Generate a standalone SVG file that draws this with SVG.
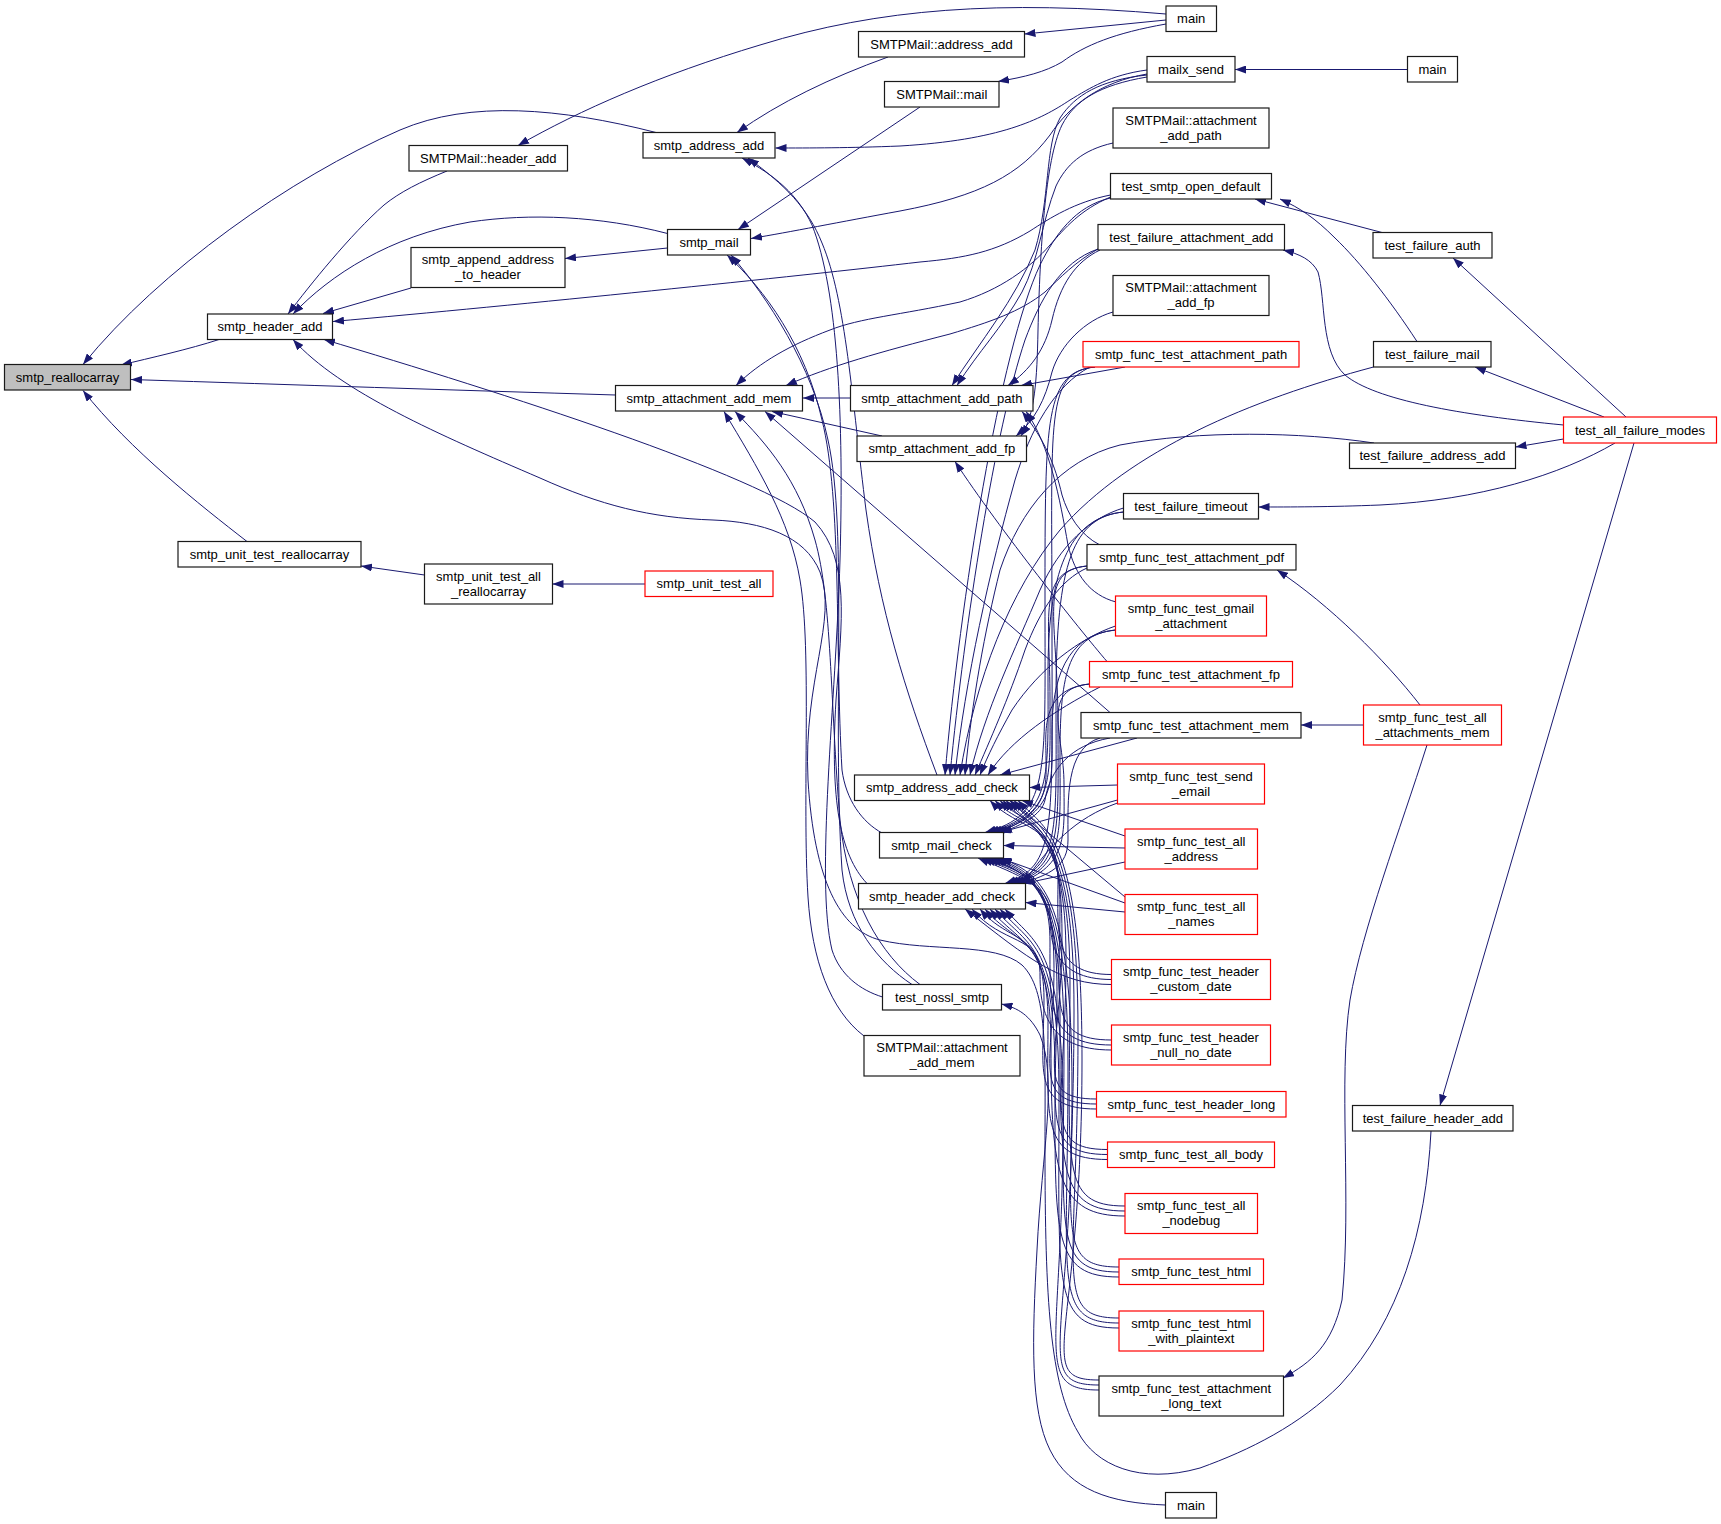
<svg xmlns="http://www.w3.org/2000/svg" width="1721" height="1524" viewBox="0 0 1721 1524">
<defs>
<marker id="ah" viewBox="0 0 11 8" refX="11" refY="4" markerWidth="11" markerHeight="8" orient="auto" markerUnits="userSpaceOnUse"><path d="M0,0 L11,4 L0,8 z" fill="#191970"/></marker>
<style>
.e{fill:none;stroke:#191970;stroke-width:1;marker-end:url(#ah)}
.n rect{fill:#fff;stroke:#1a1a1a;stroke-width:1.2}
.n.r rect{stroke:#ff0000}
.n.root rect{fill:#bfbfbf}
text{font-family:"Liberation Sans",Arial,Helvetica,sans-serif;font-size:13px;text-anchor:middle;fill:#000}
</style>
</defs>
<rect width="1721" height="1524" fill="#fff"/>
<g id="edges">
<path class="e" d="M219,339.5 C190,349 150,358 121,365"/>
<path class="e" d="M656,132.5 C560,108 470,100 400,130 C290,178 160,270 83,364.5"/>
<path class="e" d="M615.5,395 C450,390 300,385 131,379.5"/>
<path class="e" d="M247,541.5 C200,505 130,450 83,390.5"/>
<path class="e" d="M447,171 C420,182 400,192 384,205 C350,235 310,285 288,314"/>
<path class="e" d="M667.5,233.5 C600,216 530,213 470,222 C390,236 330,275 293,314"/>
<path class="e" d="M411,288 L323,313.5"/>
<path class="e" d="M1110.5,195 C1075,202 1050,218 1030,231 C995,252 965,258 920,262 C800,276 520,305 333,321.5"/>
<path class="e" d="M867,883.5 C840,855 830,800 836,700 C842,620 850,560 815,522 C760,475 500,392 324,339.5"/>
<path class="e" d="M1431,1131 C1426,1230 1400,1320 1340,1385 C1300,1425 1250,1450 1200,1468 C1140,1485 1095,1465 1078,1432 C1050,1385 1045,1300 1045,1150 C1045,1050 1048,990 1022,965 C995,942 930,952 880,940 C840,930 814,880 808,780 C803,680 838,620 820,572 C805,535 762,522 713,520 C650,518 600,505 540,478 C440,435 340,392 293,339.5"/>
<path class="e" d="M888,57 C830,78 780,102 737,132.5"/>
<path class="e" d="M1147,70 C1110,75 1090,88 1070,100 C1040,120 1000,140 900,146 C850,148 810,148 775.5,148"/>
<path class="e" d="M937,775 C905,690 880,610 866,510 C852,400 846,300 822,243 C808,208 785,185 748,158"/>
<path class="e" d="M882.5,997 C860,990 840,975 832,950 C815,880 836,700 840,560 C844,420 838,290 812,225 C798,195 775,175 742,158"/>
<path class="e" d="M920,107 L738,229.5"/>
<path class="e" d="M1147,74 C1100,82 1070,105 1050,135 C1020,175 980,196 900,211 C840,222 790,232 751,238.5"/>
<path class="e" d="M882,833 C862,822 846,800 842,770 C835,650 842,500 822,420 C805,345 765,290 727,255"/>
<path class="e" d="M912,984.5 C878,962 848,925 842,870 C832,720 848,530 828,440 C812,365 768,298 731,255"/>
<path class="e" d="M667.5,248 L565,258.5"/>
<path class="e" d="M850.5,398 L803,398"/>
<path class="e" d="M882,436 L772,411.5"/>
<path class="e" d="M1110.5,197 C1080,210 1065,228 1050,245 C1030,268 1000,290 960,302 C900,315 860,318 830,330 C790,345 760,362 736,385.5"/>
<path class="e" d="M1098,249 C1075,262 1060,278 1045,292 C1020,312 990,322 950,334 C880,352 830,366 786,385.5"/>
<path class="e" d="M864,1036 C830,1010 812,960 808,897 C802,800 812,650 800,580 C790,520 758,468 724,411.5"/>
<path class="e" d="M920,984.5 C880,955 848,900 840,820 C830,700 832,600 815,540 C798,480 768,445 735,411.5"/>
<path class="e" d="M1110,712.5 L765,411.5"/>
<path class="e" d="M1147,75 C1100,80 1075,95 1060,118 C1045,145 1050,200 1035,250 C1015,300 980,342 952,385.5"/>
<path class="e" d="M1113,143 C1082,150 1066,165 1056,186 C1042,222 1038,262 1022,292 C1002,328 978,352 957,385.5"/>
<path class="e" d="M1125,367 L1021,385.5"/>
<path class="e" d="M1100,250 C1075,262 1060,285 1052,320 C1045,350 1030,370 1008,385.5"/>
<path class="e" d="M1100,545 C1080,535 1068,515 1062,495 C1055,465 1045,440 1022,411.5"/>
<path class="e" d="M1116,602 C1090,595 1075,575 1068,545 C1060,500 1050,445 1026,411.5"/>
<path class="e" d="M1113,312 C1085,320 1060,345 1052,372 C1045,400 1035,420 1016,436"/>
<path class="e" d="M1147,77 C1100,85 1075,100 1062,125 C1045,160 1040,250 1038,330 C1037,380 1035,415 1021,436"/>
<path class="e" d="M1107,661.5 C1080,630 1000,530 955,461.5"/>
<path class="e" d="M1166,14 C1000,0 880,8 760,45 C660,75 580,110 518,145.5"/>
<path class="e" d="M1166,20 L1024.5,34"/>
<path class="e" d="M1166,24 C1115,33 1085,45 1062,62 C1045,72 1025,77 998,81.5"/>
<path class="e" d="M1407.5,69.5 L1235,69.5"/>
<path class="e" d="M1382,232.5 L1255,199"/>
<path class="e" d="M1417,341.5 C1390,300 1360,262 1335,238 C1315,218 1300,208 1280,199"/>
<path class="e" d="M1626,417 L1453,258"/>
<path class="e" d="M1604,417 L1475,367"/>
<path class="e" d="M1563.5,425 C1460,415 1375,400 1345,375 C1320,352 1326,300 1318,272 C1312,260 1300,254 1283,250"/>
<path class="e" d="M1563.5,439 L1515.5,447"/>
<path class="e" d="M1615,443 C1560,475 1480,500 1380,505 C1330,507 1290,507 1258.5,507"/>
<path class="e" d="M1634,443 L1440,1105.5"/>
<path class="e" d="M1363.5,725 L1301,725"/>
<path class="e" d="M1420,705 C1385,660 1330,605 1277,570"/>
<path class="e" d="M1427,745 C1400,830 1362,930 1350,1000 C1338,1080 1352,1200 1342,1300 C1332,1345 1312,1362 1283,1378"/>
<path class="e" d="M1165.5,1505 C1110,1503 1070,1490 1050,1450 C1030,1410 1032,1340 1037,1250 C1042,1150 1058,1080 1040,1035 C1030,1015 1018,1008 1001.5,1004"/>
<path class="e" d="M424.5,575 L361,566"/>
<path class="e" d="M645,584 L552.5,584"/>
<path class="e" d="M1110.5,198 C1075,206 1055,235 1040,265 C1000,350 960,600 945,775"/>
<path class="e" d="M1098,249 C1060,262 1040,300 1025,340 C995,430 965,620 950,775"/>
<path class="e" d="M1090,367 C1055,385 1030,430 1015,480 C990,570 965,680 955,775"/>
<path class="e" d="M1373.5,367 C1250,400 1130,450 1060,530 C1010,590 975,680 960,775"/>
<path class="e" d="M1374,443 C1300,432 1200,430 1120,445 C1060,460 1020,510 1000,570 C985,630 972,700 965,775"/>
<path class="e" d="M1123.5,508 C1090,518 1060,545 1040,590 C1015,650 985,710 970,775"/>
<path class="e" d="M1087,568 C1060,580 1040,610 1025,650 C1008,700 990,740 975,775"/>
<path class="e" d="M1115.5,626 C1080,638 1040,668 1012,710 C998,735 988,755 980,775"/>
<path class="e" d="M1100,687 C1055,710 1010,740 988,775"/>
<path class="e" d="M1137,738 L1000,775"/>
<path class="e" d="M1117.5,785 L1029.5,787.5"/>
<path class="e" d="M1117.5,800 L1000,832.5"/>
<path class="e" d="M1117.5,803 C1075,818 1050,845 1023,883.5"/>
<path class="e" d="M1095,367 C1045,372 1045,417 1045,600 C1045,783 1050,814 985,832.5"/>
<path class="e" d="M1095,367 C1045,372 1052,417 1052,625 C1052,833 1057,866 1005,883.5"/>
<path class="e" d="M1123.5,512 C1073.5,517 1048,562 1048,672 C1048,782 1053,814 988,832.5"/>
<path class="e" d="M1123.5,512 C1073.5,517 1056,562 1056,698 C1056,834 1061,866 1008,883.5"/>
<path class="e" d="M1087,566 C1037,571 1050,616 1050,699 C1050,782 1055,814 991,832.5"/>
<path class="e" d="M1087,566 C1037,571 1058,616 1058,725 C1058,834 1063,866 1011,883.5"/>
<path class="e" d="M1115.5,630 C1065.5,635 1052,680 1052,731 C1052,782 1057,814 994,832.5"/>
<path class="e" d="M1115.5,630 C1065.5,635 1060,680 1060,757 C1060,834 1065,866 1014,883.5"/>
<path class="e" d="M1089.5,684 C1039.5,689 1046,734 1046,758 C1046,782 1051,814 997,832.5"/>
<path class="e" d="M1089.5,684 C1039.5,689 1064,734 1064,784 C1064,834 1069,866 1017,883.5"/>
<path class="e" d="M1110,738 C1070,745 1050,770 1045,800 C1042,815 1020,826 1001,832.5"/>
<path class="e" d="M1100,738 C1065,748 1068,800 1068,840 C1068,866 1050,875 1020,883.5"/>
<path class="e" d="M1125,836 L1022,800.5"/>
<path class="e" d="M1125,848 L1003.5,845.5"/>
<path class="e" d="M1125,862 L1024,883.5"/>
<path class="e" d="M1125,897 L1010,800.5"/>
<path class="e" d="M1125,903 L1000,858"/>
<path class="e" d="M1125,912 L1025.5,902.5"/>
<path class="e" d="M1111.5,974.5 C1051.5,974.5 1058,934.5 1058,879 C1058,823.5 1018,830 990,800.5"/>
<path class="e" d="M1111.5,979.5 C1051.5,979.5 1050,939.5 1050,912.7 C1050,885.9 1018,875 978,858"/>
<path class="e" d="M1111.5,984.5 C1060,984.5 1030,960 965,909"/>
<path class="e" d="M1111.5,1040 C1046,1040 1060,1000 1060,908 C1060,816 1023,830 995,800.5"/>
<path class="e" d="M1111.5,1045 C1046,1045 1050,1005 1050,942 C1050,879 1022,875 982,858"/>
<path class="e" d="M1111.5,1050 C1046,1050 1040,1010 1040,972.5 C1040,935 1002,945 972,909"/>
<path class="e" d="M1096.5,1099 C1030,1099 1062,1059 1062,935 C1062,811 1028,830 1000,800.5"/>
<path class="e" d="M1096.5,1104 C1030,1104 1054,1064 1054,968.7 C1054,873.4 1025,875 985,858"/>
<path class="e" d="M1096.5,1109 C1030,1109 1044,1069 1044,999 C1044,929 1010,945 980,909"/>
<path class="e" d="M1107.5,1149.5 C1040,1149.5 1066,1109.5 1066,957.6 C1066,830 1031,830 1003,800.5"/>
<path class="e" d="M1107.5,1154.5 C1040,1154.5 1057,1114.5 1057,991.4 C1057,880 1028,875 988,858"/>
<path class="e" d="M1107.5,1159.5 C1040,1159.5 1048,1119.5 1048,1021.7 C1048,935 1015,945 985,909"/>
<path class="e" d="M1125,1206 C1058,1206 1070,1166 1070,983 C1070,835 1034,830 1006,800.5"/>
<path class="e" d="M1125,1211 C1058,1211 1060,1171 1060,1017 C1060,888 1031,875 991,858"/>
<path class="e" d="M1125,1216 C1058,1216 1051,1176 1051,1047 C1051,940 1020,945 990,909"/>
<path class="e" d="M1119,1267 C1052,1267 1074,1227 1074,1010 C1074,835 1038,830 1010,800.5"/>
<path class="e" d="M1119,1272 C1052,1272 1064,1232 1064,1044 C1064,888 1034,875 994,858"/>
<path class="e" d="M1119,1277 C1052,1277 1055,1237 1055,1075 C1055,940 1025,945 995,909"/>
<path class="e" d="M1119,1318 C1052,1318 1078,1278 1078,1033 C1078,835 1042,830 1014,800.5"/>
<path class="e" d="M1119,1323 C1052,1323 1068,1283 1068,1067 C1068,888 1037,875 997,858"/>
<path class="e" d="M1119,1328 C1052,1328 1059,1288 1059,1097 C1059,940 1030,945 1000,909"/>
<path class="e" d="M1099,1380 C1032,1380 1082,1340 1082,1060 C1082,835 1046,830 1018,800.5"/>
<path class="e" d="M1099,1385 C1032,1385 1072,1345 1072,1090 C1072,888 1040,875 1001,858"/>
<path class="e" d="M1099,1390 C1032,1390 1063,1350 1063,1120 C1063,940 1035,945 1005,909"/>
</g>
<g id="n1" class="n root"><rect x="4.5" y="364.5" width="126" height="25.5"/><text x="67.5" y="381.5">smtp_reallocarray</text></g>
<g id="n2" class="n"><rect x="207.5" y="314" width="125" height="25.5"/><text x="270" y="331">smtp_header_add</text></g>
<g id="n3" class="n"><rect x="409" y="145.5" width="158.5" height="25.5"/><text x="488.3" y="162.5">SMTPMail::header_add</text></g>
<g id="n4" class="n"><rect x="643" y="132.5" width="132" height="25.5"/><text x="709" y="149.5">smtp_address_add</text></g>
<g id="n5" class="n"><rect x="667.5" y="229.5" width="83" height="25.5"/><text x="709" y="246.5">smtp_mail</text></g>
<g id="n6" class="n"><rect x="411" y="247.5" width="154" height="40"/><text x="488" y="264">smtp_append_address</text><text x="488" y="279">_to_header</text></g>
<g id="n7" class="n"><rect x="615.5" y="385.5" width="187" height="25.5"/><text x="709" y="402.5">smtp_attachment_add_mem</text></g>
<g id="n8" class="n"><rect x="178" y="541.5" width="183" height="25.5"/><text x="269.5" y="558.5">smtp_unit_test_reallocarray</text></g>
<g id="n9" class="n"><rect x="424.5" y="564" width="128" height="40"/><text x="488.5" y="580.5">smtp_unit_test_all</text><text x="488.5" y="595.5">_reallocarray</text></g>
<g id="n10" class="n r"><rect x="645" y="571" width="128" height="25.5"/><text x="709" y="588">smtp_unit_test_all</text></g>
<g id="n11" class="n"><rect x="1166" y="6" width="50.5" height="25.5"/><text x="1191.2" y="23">main</text></g>
<g id="n12" class="n"><rect x="858.5" y="31.5" width="166" height="25.5"/><text x="941.5" y="48.5">SMTPMail::address_add</text></g>
<g id="n13" class="n"><rect x="884.5" y="81.5" width="114.5" height="25.5"/><text x="941.8" y="98.5">SMTPMail::mail</text></g>
<g id="n14" class="n"><rect x="1147" y="56.5" width="88" height="25.5"/><text x="1191" y="73.5">mailx_send</text></g>
<g id="n15" class="n"><rect x="1407.5" y="56.5" width="50" height="25.5"/><text x="1432.5" y="73.5">main</text></g>
<g id="n16" class="n"><rect x="1113" y="108" width="156" height="40"/><text x="1191" y="124.5">SMTPMail::attachment</text><text x="1191" y="139.5">_add_path</text></g>
<g id="n17" class="n"><rect x="1110.5" y="173.5" width="161" height="25.5"/><text x="1191" y="190.5">test_smtp_open_default</text></g>
<g id="n18" class="n"><rect x="1098" y="224.5" width="186.5" height="25.5"/><text x="1191.3" y="241.5">test_failure_attachment_add</text></g>
<g id="n19" class="n"><rect x="1113" y="275.5" width="156" height="40"/><text x="1191" y="292">SMTPMail::attachment</text><text x="1191" y="307">_add_fp</text></g>
<g id="n20" class="n r"><rect x="1083" y="341.5" width="216" height="25.5"/><text x="1191" y="358.5">smtp_func_test_attachment_path</text></g>
<g id="n21" class="n"><rect x="850.5" y="385.5" width="182.5" height="25.5"/><text x="941.8" y="402.5">smtp_attachment_add_path</text></g>
<g id="n22" class="n"><rect x="857" y="436" width="169.5" height="25.5"/><text x="941.8" y="453">smtp_attachment_add_fp</text></g>
<g id="n23" class="n"><rect x="1373" y="232.5" width="119" height="25.5"/><text x="1432.5" y="249.5">test_failure_auth</text></g>
<g id="n24" class="n"><rect x="1373.5" y="341.5" width="117.5" height="25.5"/><text x="1432.3" y="358.5">test_failure_mail</text></g>
<g id="n25" class="n r"><rect x="1563.5" y="417" width="153" height="26"/><text x="1640" y="434.5">test_all_failure_modes</text></g>
<g id="n26" class="n"><rect x="1349.5" y="443" width="166" height="25.5"/><text x="1432.5" y="460">test_failure_address_add</text></g>
<g id="n27" class="n"><rect x="1123.5" y="493.5" width="135" height="25.5"/><text x="1191" y="510.5">test_failure_timeout</text></g>
<g id="n28" class="n"><rect x="1087" y="544.5" width="209" height="25.5"/><text x="1191.5" y="561.5">smtp_func_test_attachment_pdf</text></g>
<g id="n29" class="n r"><rect x="1115.5" y="596" width="151" height="40"/><text x="1191" y="612.5">smtp_func_test_gmail</text><text x="1191" y="627.5">_attachment</text></g>
<g id="n30" class="n r"><rect x="1089.5" y="661.5" width="203" height="25.5"/><text x="1191" y="678.5">smtp_func_test_attachment_fp</text></g>
<g id="n31" class="n"><rect x="1081" y="712.5" width="220" height="25.5"/><text x="1191" y="729.5">smtp_func_test_attachment_mem</text></g>
<g id="n32" class="n r"><rect x="1363.5" y="705" width="138" height="40"/><text x="1432.5" y="721.5">smtp_func_test_all</text><text x="1432.5" y="736.5">_attachments_mem</text></g>
<g id="n33" class="n"><rect x="854.5" y="775" width="175" height="25.5"/><text x="942" y="792">smtp_address_add_check</text></g>
<g id="n34" class="n r"><rect x="1117.5" y="764" width="147" height="40"/><text x="1191" y="780.5">smtp_func_test_send</text><text x="1191" y="795.5">_email</text></g>
<g id="n35" class="n"><rect x="879.5" y="832.5" width="124" height="25.5"/><text x="941.5" y="849.5">smtp_mail_check</text></g>
<g id="n36" class="n r"><rect x="1125" y="829" width="132.5" height="40"/><text x="1191.3" y="845.5">smtp_func_test_all</text><text x="1191.3" y="860.5">_address</text></g>
<g id="n37" class="n"><rect x="858.5" y="883.5" width="167" height="25.5"/><text x="942" y="900.5">smtp_header_add_check</text></g>
<g id="n38" class="n r"><rect x="1125" y="894.5" width="132.5" height="40"/><text x="1191.3" y="911">smtp_func_test_all</text><text x="1191.3" y="926">_names</text></g>
<g id="n39" class="n r"><rect x="1111.5" y="959.5" width="159" height="40"/><text x="1191" y="976">smtp_func_test_header</text><text x="1191" y="991">_custom_date</text></g>
<g id="n40" class="n"><rect x="882.5" y="984.5" width="119" height="25.5"/><text x="942" y="1001.5">test_nossl_smtp</text></g>
<g id="n41" class="n"><rect x="864" y="1035.5" width="156" height="40.5"/><text x="942" y="1052">SMTPMail::attachment</text><text x="942" y="1067">_add_mem</text></g>
<g id="n42" class="n r"><rect x="1111.5" y="1025" width="159" height="40"/><text x="1191" y="1041.5">smtp_func_test_header</text><text x="1191" y="1056.5">_null_no_date</text></g>
<g id="n43" class="n r"><rect x="1096.5" y="1091.5" width="189.5" height="25.5"/><text x="1191.3" y="1108.5">smtp_func_test_header_long</text></g>
<g id="n44" class="n r"><rect x="1107.5" y="1142" width="167" height="25.5"/><text x="1191" y="1159">smtp_func_test_all_body</text></g>
<g id="n45" class="n r"><rect x="1125" y="1193.5" width="132.5" height="40"/><text x="1191.3" y="1210">smtp_func_test_all</text><text x="1191.3" y="1225">_nodebug</text></g>
<g id="n46" class="n r"><rect x="1119" y="1259" width="144.5" height="25.5"/><text x="1191.3" y="1276">smtp_func_test_html</text></g>
<g id="n47" class="n r"><rect x="1119" y="1311" width="144.5" height="40"/><text x="1191.3" y="1327.5">smtp_func_test_html</text><text x="1191.3" y="1342.5">_with_plaintext</text></g>
<g id="n48" class="n"><rect x="1099" y="1376" width="184.5" height="40"/><text x="1191.3" y="1392.5">smtp_func_test_attachment</text><text x="1191.3" y="1407.5">_long_text</text></g>
<g id="n49" class="n"><rect x="1165.5" y="1492.5" width="51" height="25.5"/><text x="1191" y="1509.5">main</text></g>
<g id="n50" class="n"><rect x="1352.5" y="1105.5" width="160.5" height="25.5"/><text x="1432.8" y="1122.5">test_failure_header_add</text></g>
</svg>
